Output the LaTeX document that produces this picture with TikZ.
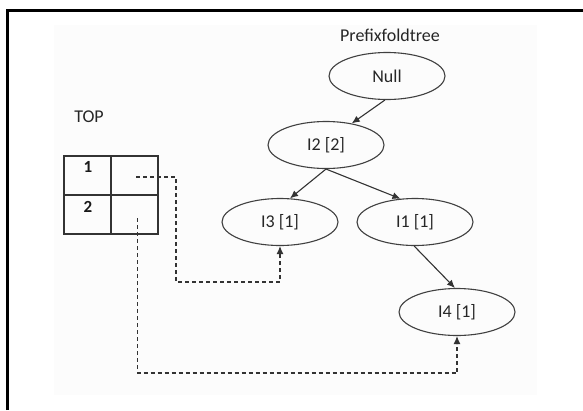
\documentclass[tikz,border=0pt]{standalone}
\usepackage{fontspec}
\setmainfont{Carlito}
\usetikzlibrary{shapes.geometric,arrows.meta}
\begin{document}
\begin{tikzpicture}[x=1pt,y=-1pt,
  oval/.style={draw=black!75,line width=1.1pt,ellipse,minimum width=116pt,minimum height=47pt,inner sep=0pt,font=\fontsize{18}{20}\selectfont,text=black!85},
  solidarrow/.style={draw=black!80,line width=1.1pt,-{Latex[length=8pt,width=7pt]}},
  dasharrow/.style={draw=black!80,line width=1.1pt,dash pattern=on 4pt off 3pt,-{Latex[length=8pt,width=7pt]}},
  label/.style={font=\fontsize{18}{20}\selectfont,text=black!85,inner sep=0pt},
  cellnum/.style={font=\bfseries\fontsize{17}{19}\selectfont,text=black!90,inner sep=0pt}]
\useasboundingbox (0,0) rectangle (583,410);
\fill[black!1] (54,25) rectangle (537,395);
\draw[line width=2.2pt] (7.5,410) -- (7.5,10.5) -- (583,10.5);

\node[label] (title) at (390,35) {Prefixfoldtree};
\node[label] (top) at (89,117) {TOP};

\node[oval] (null) at (387,76) {Null};
\node[oval] (i2) at (326,145) {I2 [2]};
\node[oval] (i3) at (280,222) {I3 [1]};
\node[oval] (i1) at (415,222) {I1 [1]};
\node[oval] (i4) at (457,312) {I4 [1]};

% table
\draw[draw=black!80,line width=1.3pt] (64,156) rectangle (158,234);
\draw[draw=black!80,line width=1.3pt] (111,156) -- (111,234);
\draw[draw=black!80,line width=1.3pt] (64,195) -- (158,195);
\node[cellnum] (n1) at (88,167) {1};
\node[cellnum] (n2) at (88,207) {2};

\coordinate (d1) at (136,177);
\coordinate (c1) at (176,282);
\coordinate (d2) at (137.5,218);
\coordinate (c2) at (137.5,373);

\draw[solidarrow] (null.-95) -- (i2.40);
\draw[solidarrow] (i2.south) -- (i3.67);
\draw[solidarrow] (i2.south) -- (i1.122);
\draw[solidarrow] (i1.-92) -- (i4.95);

\draw[dasharrow] (d1) -| (c1) -| (i3.south);
\draw[dasharrow] (d2) -- (c2) -| (i4.south);
\end{tikzpicture}
\end{document}
